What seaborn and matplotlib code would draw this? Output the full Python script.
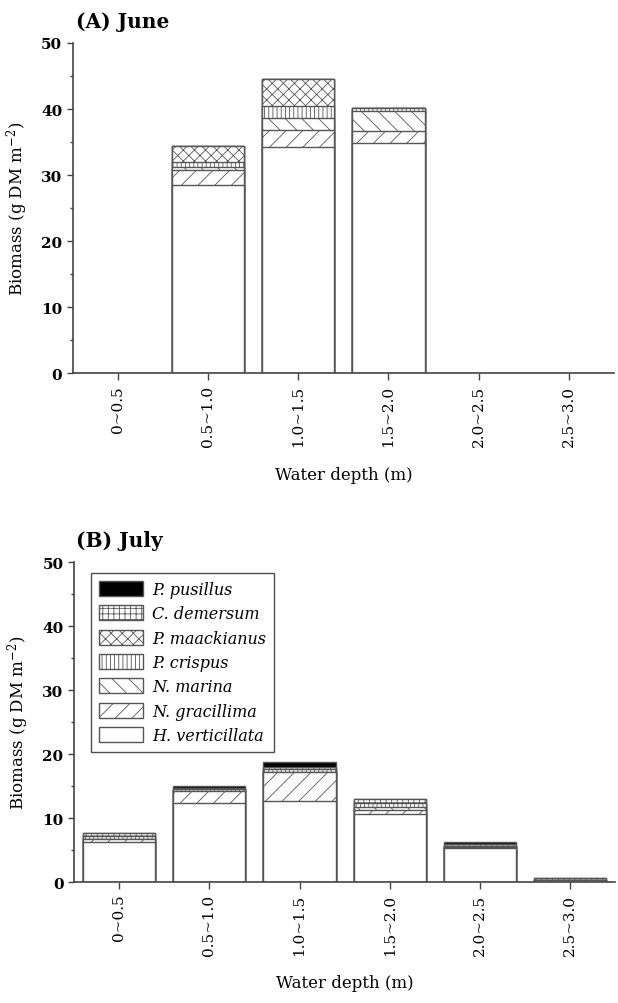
import numpy as np
import pandas as pd
import seaborn as sns
import matplotlib.pyplot as plt
from matplotlib.patches import Patch
from matplotlib.ticker import MultipleLocator

depths = ['0~0.5', '0.5~1.0', '1.0~1.5', '1.5~2.0', '2.0~2.5', '2.5~3.0']

# stacking order: bottom -> top
species = ['H. verticillata', 'N. gracillima', 'N. marina', 'P. crispus',
           'P. maackianus', 'C. demersum', 'P. pusillus']

# (A) June, g DM m-2
june_h_vert = [0, 28.5, 34.3, 34.9, 0, 0]
june_n_grac = [0, 2.3, 2.6, 1.8, 0, 0]
june_n_mar = [0, 0.5, 1.8, 3.0, 0, 0]
june_p_cris = [0, 0.7, 1.8, 0.5, 0, 0]
june_p_maack = [0, 2.4, 4.1, 0, 0, 0]
june_c_dem = [0, 0, 0, 0, 0, 0]
june_p_pus = [0, 0, 0, 0, 0, 0]

# (B) July
july_h_vert = [6.3, 12.3, 12.6, 10.7, 5.3, 0]
july_n_grac = [0.5, 2.0, 4.6, 0.6, 0.2, 0.3]
july_n_mar = [0, 0, 0, 0.5, 0.2, 0]
july_p_cris = [0.4, 0.3, 0.4, 0.5, 0, 0]
july_p_maack = [0, 0, 0, 0, 0, 0]
july_c_dem = [0.5, 0.1, 0.3, 0.7, 0.2, 0.3]
july_p_pus = [0, 0.3, 0.9, 0, 0.3, 0]

june = pd.DataFrame(dict(zip(species, [june_h_vert, june_n_grac, june_n_mar, june_p_cris,
                                       june_p_maack, june_c_dem, june_p_pus])), index=depths)
july = pd.DataFrame(dict(zip(species, [july_h_vert, july_n_grac, july_n_mar, july_p_cris,
                                       july_p_maack, july_c_dem, july_p_pus])), index=depths)

styles = {
    'H. verticillata': ('white', ''),
    'N. gracillima': ('white', '//'),
    'N. marina': ('white', '\\\\'),
    'P. crispus': ('white', '||||'),
    'P. maackianus': ('white', 'xxx'),
    'C. demersum': ('white', '+++'),
    'P. pusillus': ('black', ''),
}

sns.set_style('white')
plt.rcParams['font.family'] = ['DejaVu Serif']
plt.rcParams['mathtext.fontset'] = 'dejavuserif'
plt.rcParams['text.color'] = 'black'
plt.rcParams['axes.labelcolor'] = 'black'
plt.rcParams['xtick.color'] = 'black'
plt.rcParams['ytick.color'] = 'black'
plt.rcParams['hatch.color'] = '#555555'
plt.rcParams['hatch.linewidth'] = 0.6

edge = '#555555'


def draw_panel(ax, df, legend=False):
    cum = df.cumsum(axis=1)
    # draw from the top layer down so lower layers cover the upper ones
    for sp in species[::-1]:
        fc, hatch = styles[sp]
        vals = cum[sp].values.astype(float)
        vals[vals <= 0] = np.nan  # no bar where nothing grew
        data = pd.DataFrame({'depth': depths, 'value': vals})
        sns.barplot(data=data, x='depth', y='value', order=depths, ax=ax,
                    color=fc, saturation=1, width=0.8, errorbar=None,
                    edgecolor=edge, linewidth=1.0, hatch=hatch)
    ax.set_xlim(-0.5, 5.5)
    ax.set_ylim(0, 50)
    ax.yaxis.set_major_locator(MultipleLocator(10))
    ax.yaxis.set_minor_locator(MultipleLocator(5))
    sns.despine(ax=ax)
    for s in ['left', 'bottom']:
        ax.spines[s].set_color('#444444')
        ax.spines[s].set_linewidth(1.2)
    ax.tick_params(axis='y', which='major', direction='out', length=4, width=1,
                   color='#444444', left=True, labelsize=11)
    ax.tick_params(axis='y', which='minor', direction='out', length=2.5, width=1,
                   color='#444444', left=True)
    ax.tick_params(axis='x', direction='out', length=5, width=1, color='#444444',
                   bottom=True, labelsize=11, labelrotation=90)
    for lab in ax.get_yticklabels():
        lab.set_fontweight('bold')
    ax.set_xlabel('Water depth (m)', fontsize=12, labelpad=14)
    ax.set_ylabel('Biomass (g DM m$^{-2}$)', fontsize=12, labelpad=8)
    if legend:
        handles = [Patch(facecolor=styles[sp][0], hatch=styles[sp][1], edgecolor=edge,
                         linewidth=1.0, label=sp) for sp in species[::-1]]
        leg = ax.legend(handles=handles, loc='upper left', bbox_to_anchor=(0.031, 0.966),
                        borderaxespad=0, fancybox=False, frameon=True,
                        prop={'style': 'italic', 'size': 11.5},
                        handlelength=2.8, handleheight=1.05, labelspacing=0.46,
                        handletextpad=0.55, borderpad=0.5)
        leg.get_frame().set_edgecolor('#222222')
        leg.get_frame().set_linewidth(1.0)


fig = plt.figure(figsize=(6.18, 10.04), dpi=100)
ax1 = fig.add_axes([0.1176, 0.6272, 0.876, 0.329])
ax2 = fig.add_axes([0.1197, 0.1205, 0.876, 0.3187])

draw_panel(ax1, june)
draw_panel(ax2, july, legend=True)

fig.text(0.123, 1 - 28 / 1004, '(A) June', fontsize=14.5, fontweight='bold', va='baseline')
fig.text(0.123, 1 - 547 / 1004, '(B) July', fontsize=14.5, fontweight='bold', va='baseline')

fig.savefig('out.png', dpi=100)
